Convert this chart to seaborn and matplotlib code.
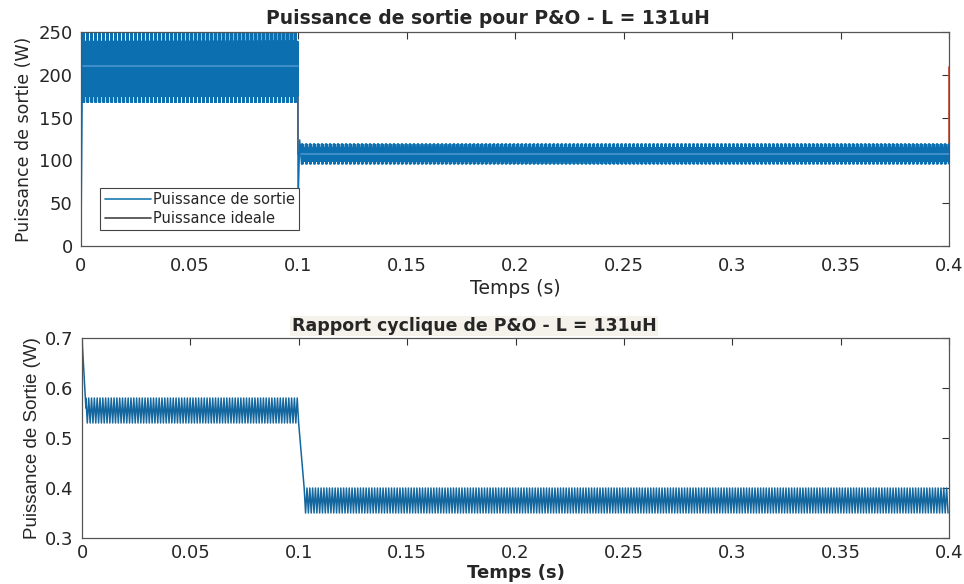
import numpy as np
import pandas as pd
import matplotlib
matplotlib.use("Agg")
import matplotlib.pyplot as plt
import seaborn as sns

sns.set_style("white")
plt.rcParams["font.family"] = ["DejaVu Sans"]

# ---- Output power, P&O, L = 131 uH ----------------------------------------
# start-up and step-change anchor points (s, W)
p_start_t = [0.0, 0.0008]
p_start_v = [0.0, 250.0]
p_step_t = [0.1, 0.1008, 0.1016]
p_step_v = [44.0, 124.0, 96.0]
# oscillation band before / after the irradiance step: outer and inner peaks
p_band1_hi = [250.0, 239.0]
p_band1_lo = [168.0, 175.0]
p_band2_hi = [119.0, 115.0]
p_band2_lo = [96.0, 99.0]
p_centre = [210.0, 107.0]
# ideal (MPP) power
p_ideal_t = [0.0, 0.1, 0.1, 0.4, 0.4]
p_ideal_v = [210.0, 210.0, 107.0, 107.0, 209.0]

# ---- Duty cycle, P&O -------------------------------------------------------
d_start_t = [0.0, 0.0018]
d_start_v = [0.70, 0.56]
d_band1 = [0.58, 0.53]
d_band2 = [0.40, 0.35]
d_step_t = [0.1, 0.1025]

half_fast = 0.000115     # half period of the converter ripple (power)
tooth_len = 4            # peaks per ripple tooth
half_duty = 0.00065      # half period of the P&O perturbation


def ripple(t0, t1, hi, lo):
    t = np.arange(t0, t1, half_fast)
    k = np.arange(len(t))
    peak = (k // 2 // tooth_len) % 2
    hi_v = np.where(peak == 0, hi[0], hi[1])
    lo_v = np.where(peak == 0, lo[0], lo[1])
    return t, np.where(k % 2 == 0, hi_v, lo_v)


def zigzag(t0, t1, hi, lo):
    t = np.arange(t0, t1, half_duty)
    k = np.arange(len(t))
    return t, np.where(k % 2 == 0, hi, lo)


t1, v1 = ripple(p_start_t[-1], p_step_t[0], p_band1_hi, p_band1_lo)
t2, v2 = ripple(p_step_t[-1], 0.4, p_band2_hi, p_band2_lo)
power = pd.DataFrame({
    "t": np.concatenate([p_start_t, t1, p_step_t, t2]),
    "P": np.concatenate([p_start_v, v1, p_step_v, v2]),
})
centre = pd.DataFrame({
    "t": [p_start_t[-1], p_step_t[0], np.nan, p_step_t[-1], 0.4],
    "P": [p_centre[0], p_centre[0], np.nan, p_centre[1], p_centre[1]],
})
ideal = pd.DataFrame({"t": p_ideal_t, "P": p_ideal_v})

s1, w1 = zigzag(d_start_t[-1], d_step_t[0], d_band1[0], d_band1[1])
s2, w2 = zigzag(d_step_t[-1], 0.4, d_band2[0], d_band2[1])
duty = pd.DataFrame({
    "t": np.concatenate([d_start_t, s1, s2]),
    "D": np.concatenate([d_start_v, w1, w2]),
})

blue = "#0b6fb0"
fig = plt.figure(figsize=(9.64, 5.84), dpi=100)
W, H = 964, 584
ax1 = fig.add_axes([81 / W, 1 - 246 / H, 868 / W, 214 / H])
ax2 = fig.add_axes([82 / W, 1 - 538 / H, 867 / W, 200 / H])

sns.lineplot(data=ideal, x="t", y="P", ax=ax1, color="#c8472a", lw=1.2,
             estimator=None, sort=False, zorder=1)
sns.lineplot(data=power, x="t", y="P", ax=ax1, color=blue, lw=1.0,
             estimator=None, sort=False, zorder=2)
ax1.plot(centre["t"], centre["P"], color="#4a95cf", lw=1.2, zorder=3)

sns.lineplot(data=duty, x="t", y="D", ax=ax2, color="#14679e", lw=1.1,
             estimator=None, sort=False)

tick_kw = dict(direction="in", top=True, right=True, length=5, width=0.8,
               labelsize=13, color="#333333", pad=6)
xt = np.round(np.arange(0, 0.401, 0.05), 2)
xl = ["0", "0.05", "0.1", "0.15", "0.2", "0.25", "0.3", "0.35", "0.4"]

ax1.set_xlim(0, 0.4)
ax1.set_ylim(0, 250)
ax1.set_xticks(xt, xl)
ax1.set_yticks([0, 50, 100, 150, 200, 250])
ax1.tick_params(**tick_kw)
ax1.tick_params(axis="x", pad=8)
ax1.set_xlabel("Temps (s)", fontsize=13.5, labelpad=3)
ax1.set_ylabel("Puissance de sortie (W)", fontsize=12.5, labelpad=4)
ax1.set_title("Puissance de sortie pour P&O - L = 131uH", fontsize=13.5,
              fontweight="bold", pad=6, x=0.469)

ax2.set_xlim(0, 0.4)
ax2.set_ylim(0.3, 0.7)
ax2.set_xticks(xt, xl)
ax2.set_yticks([0.3, 0.4, 0.5, 0.6, 0.7])
ax2.tick_params(**tick_kw)
ax2.tick_params(axis="x", pad=4)
ax2.set_xlabel("Temps (s)", fontsize=13, fontweight="bold", labelpad=2)
ax2.set_ylabel("Puissance de Sortie (W)", family=["Liberation Sans"],
               fontsize=13.5, labelpad=3)
ax2.set_title("Rapport cyclique de P&O - L = 131uH", fontsize=12.5,
              fontweight="bold", pad=5, x=0.452,
              bbox=dict(facecolor="#f4f2ea", edgecolor="none", pad=1))

for ax in (ax1, ax2):
    for sp in ax.spines.values():
        sp.set_color("#555555")
        sp.set_linewidth(0.9)

h1, = ax1.plot([], [], color="#1a7ab0", lw=1.2)
h2, = ax1.plot([], [], color="#444444", lw=1.2)
leg = ax1.legend([h1, h2], ["Puissance de sortie", "Puissance ideale"],
                 loc="lower left", bbox_to_anchor=(0.014, 0.04),
                 fontsize=10.5, handlelength=3.2, handletextpad=0.1,
                 borderpad=0.3, labelspacing=0.25, fancybox=False,
                 framealpha=1)
leg.get_frame().set_edgecolor("#444444")
leg.get_frame().set_linewidth(0.8)

fig.savefig("out.png", dpi=100)
